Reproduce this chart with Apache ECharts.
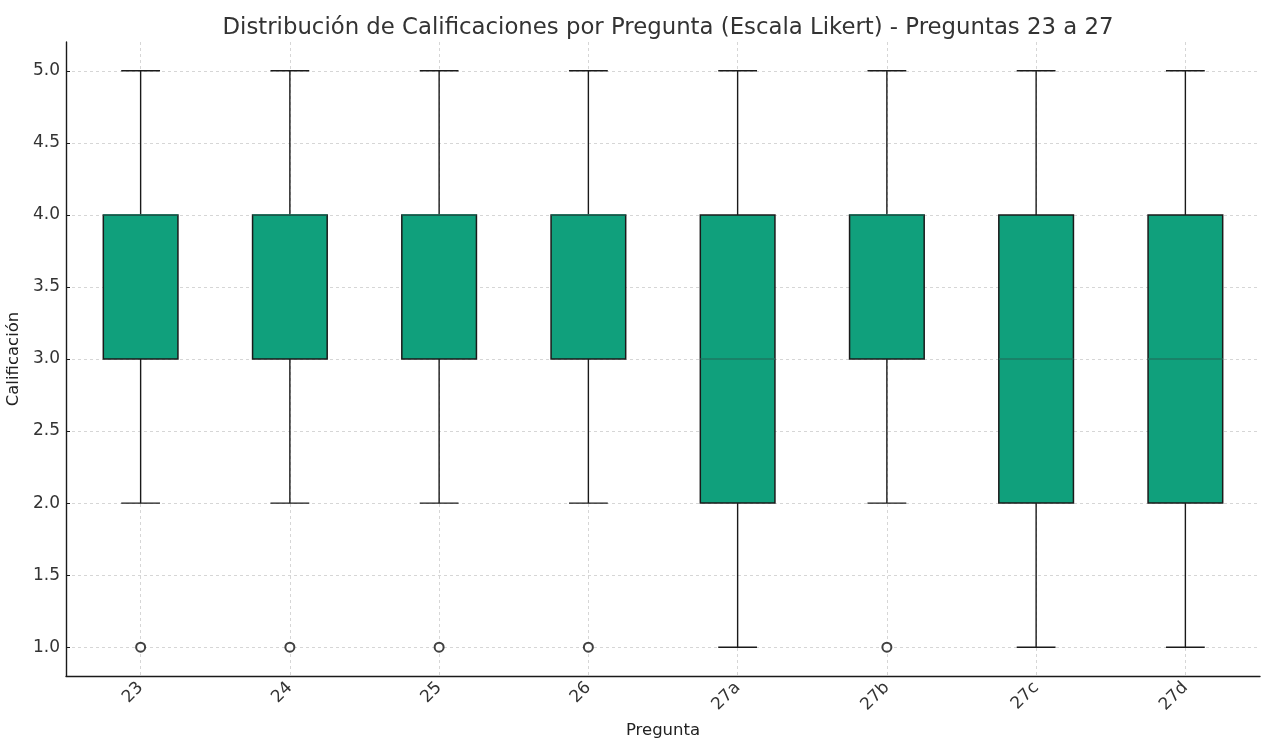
<!DOCTYPE html>
<html>
<head>
<meta charset="utf-8">
<script src="https://cdn.jsdelivr.net/npm/echarts@6/dist/echarts.min.js"></script>
<style>
  html, body { margin: 0; padding: 0; background: #fff; }
  #chart { width: 1262px; height: 739px; }
</style>
</head>
<body>
<div id="chart"></div>
<script>
// Preguntas y estadísticos de cada caja: [mín, Q1, mediana, Q3, máx]
const preguntas = ['23', '24', '25', '26', '27a', '27b', '27c', '27d'];
const minimos  = [2, 2, 2, 2, 1, 2, 1, 1];
const q1       = [3, 3, 3, 3, 2, 3, 2, 2];
const medianas = [4, 4, 4, 4, 3, 4, 3, 3];
const q3       = [4, 4, 4, 4, 4, 4, 4, 4];
const maximos  = [5, 5, 5, 5, 5, 5, 5, 5];
// Valores atípicos: [índice de pregunta, calificación]
const atipicos = [[0, 1], [1, 1], [2, 1], [3, 1], [5, 1]];
const marcasY  = [1.0, 1.5, 2.0, 2.5, 3.0, 3.5, 4.0, 4.5, 5.0];

const FONT = 'DejaVu Sans';
const cajas = preguntas.map((p, i) => [i, minimos[i], q1[i], medianas[i], q3[i], maximos[i]]);

function dibujarCaja(params, api) {
  const i = api.value(0);
  const band = api.size([1, 0])[0];
  const half = band * 0.25;
  const cap = band * 0.13;
  const pMin = api.coord([i, api.value(1)]);
  const pQ1 = api.coord([i, api.value(2)]);
  const pMed = api.coord([i, api.value(3)]);
  const pQ3 = api.coord([i, api.value(4)]);
  const pMax = api.coord([i, api.value(5)]);
  const x = pQ1[0];
  const lineStyle = { stroke: '#1a1a1a', lineWidth: 1.4, fill: null };
  return {
    type: 'group',
    children: [
      { type: 'line', shape: { x1: x, y1: pQ1[1], x2: x, y2: pMin[1] }, style: lineStyle },
      { type: 'line', shape: { x1: x, y1: pQ3[1], x2: x, y2: pMax[1] }, style: lineStyle },
      { type: 'line', shape: { x1: x - cap, y1: pMin[1], x2: x + cap, y2: pMin[1] }, style: lineStyle },
      { type: 'line', shape: { x1: x - cap, y1: pMax[1], x2: x + cap, y2: pMax[1] }, style: lineStyle },
      { type: 'rect', shape: { x: x - half, y: pQ3[1], width: half * 2, height: pQ1[1] - pQ3[1] },
        style: { fill: '#10a07c', stroke: '#1a1a1a', lineWidth: 1.5 } },
      { type: 'line', shape: { x1: x - half, y1: pMed[1], x2: x + half, y2: pMed[1] },
        style: { stroke: '#1d7862', lineWidth: 1.4 } }
    ]
  };
}

const chart = echarts.init(document.getElementById('chart'), null, { renderer: 'canvas' });
chart.setOption({
  animation: false,
  backgroundColor: '#fff',
  title: {
    text: 'Distribución de Calificaciones por Pregunta (Escala Likert) - Preguntas 23 a 27',
    left: 663, top: 12, textAlign: 'center',
    textStyle: { fontFamily: FONT, fontSize: 22.8, fontWeight: 'normal', color: '#333' }
  },
  grid: { left: 66, right: 2, top: 42, bottom: 63, containLabel: false, outerBoundsMode: 'none' },
  xAxis: {
    type: 'category',
    data: preguntas,
    boundaryGap: true,
    name: 'Pregunta',
    nameLocation: 'middle',
    nameGap: 46,
    nameTextStyle: { fontFamily: FONT, fontSize: 16.5, color: '#222' },
    axisLine: { lineStyle: { color: '#1a1a1a', width: 1.4 } },
    axisTick: { alignWithLabel: true, inside: true, length: 4, lineStyle: { color: '#1a1a1a' } },
    axisLabel: { rotate: 45, fontFamily: FONT, fontSize: 17, color: '#333', margin: 9, interval: 0 },
    splitLine: { show: true, alignWithLabel: true, lineStyle: { color: '#ccc', type: [3, 3], width: 0.8 } }
  },
  yAxis: {
    type: 'value',
    min: 0.8, max: 5.2,
    name: 'Calificación',
    nameLocation: 'middle',
    nameGap: 40,
    nameTextStyle: { fontFamily: FONT, fontSize: 16.5, color: '#222' },
    axisLine: { show: true, lineStyle: { color: '#1a1a1a', width: 1.4 } },
    axisTick: { show: true, inside: true, length: 4, customValues: marcasY, lineStyle: { color: '#1a1a1a' } },
    axisLabel: { customValues: marcasY, formatter: v => v.toFixed(1), fontFamily: FONT, fontSize: 17, color: '#333', margin: 6 },
    splitLine: { show: true, lineStyle: { color: '#ccc', type: [3, 3], width: 0.8 } }
  },
  series: [
    {
      type: 'custom',
      renderItem: dibujarCaja,
      encode: { x: 0, y: [1, 2, 3, 4, 5] },
      data: cajas,
      z: 2
    },
    {
      type: 'scatter',
      data: atipicos,
      symbol: 'circle',
      symbolSize: 9,
      itemStyle: { color: '#fff', borderColor: '#111', borderWidth: 2 },
      z: 3
    }
  ]
});
</script>
</body>
</html>
